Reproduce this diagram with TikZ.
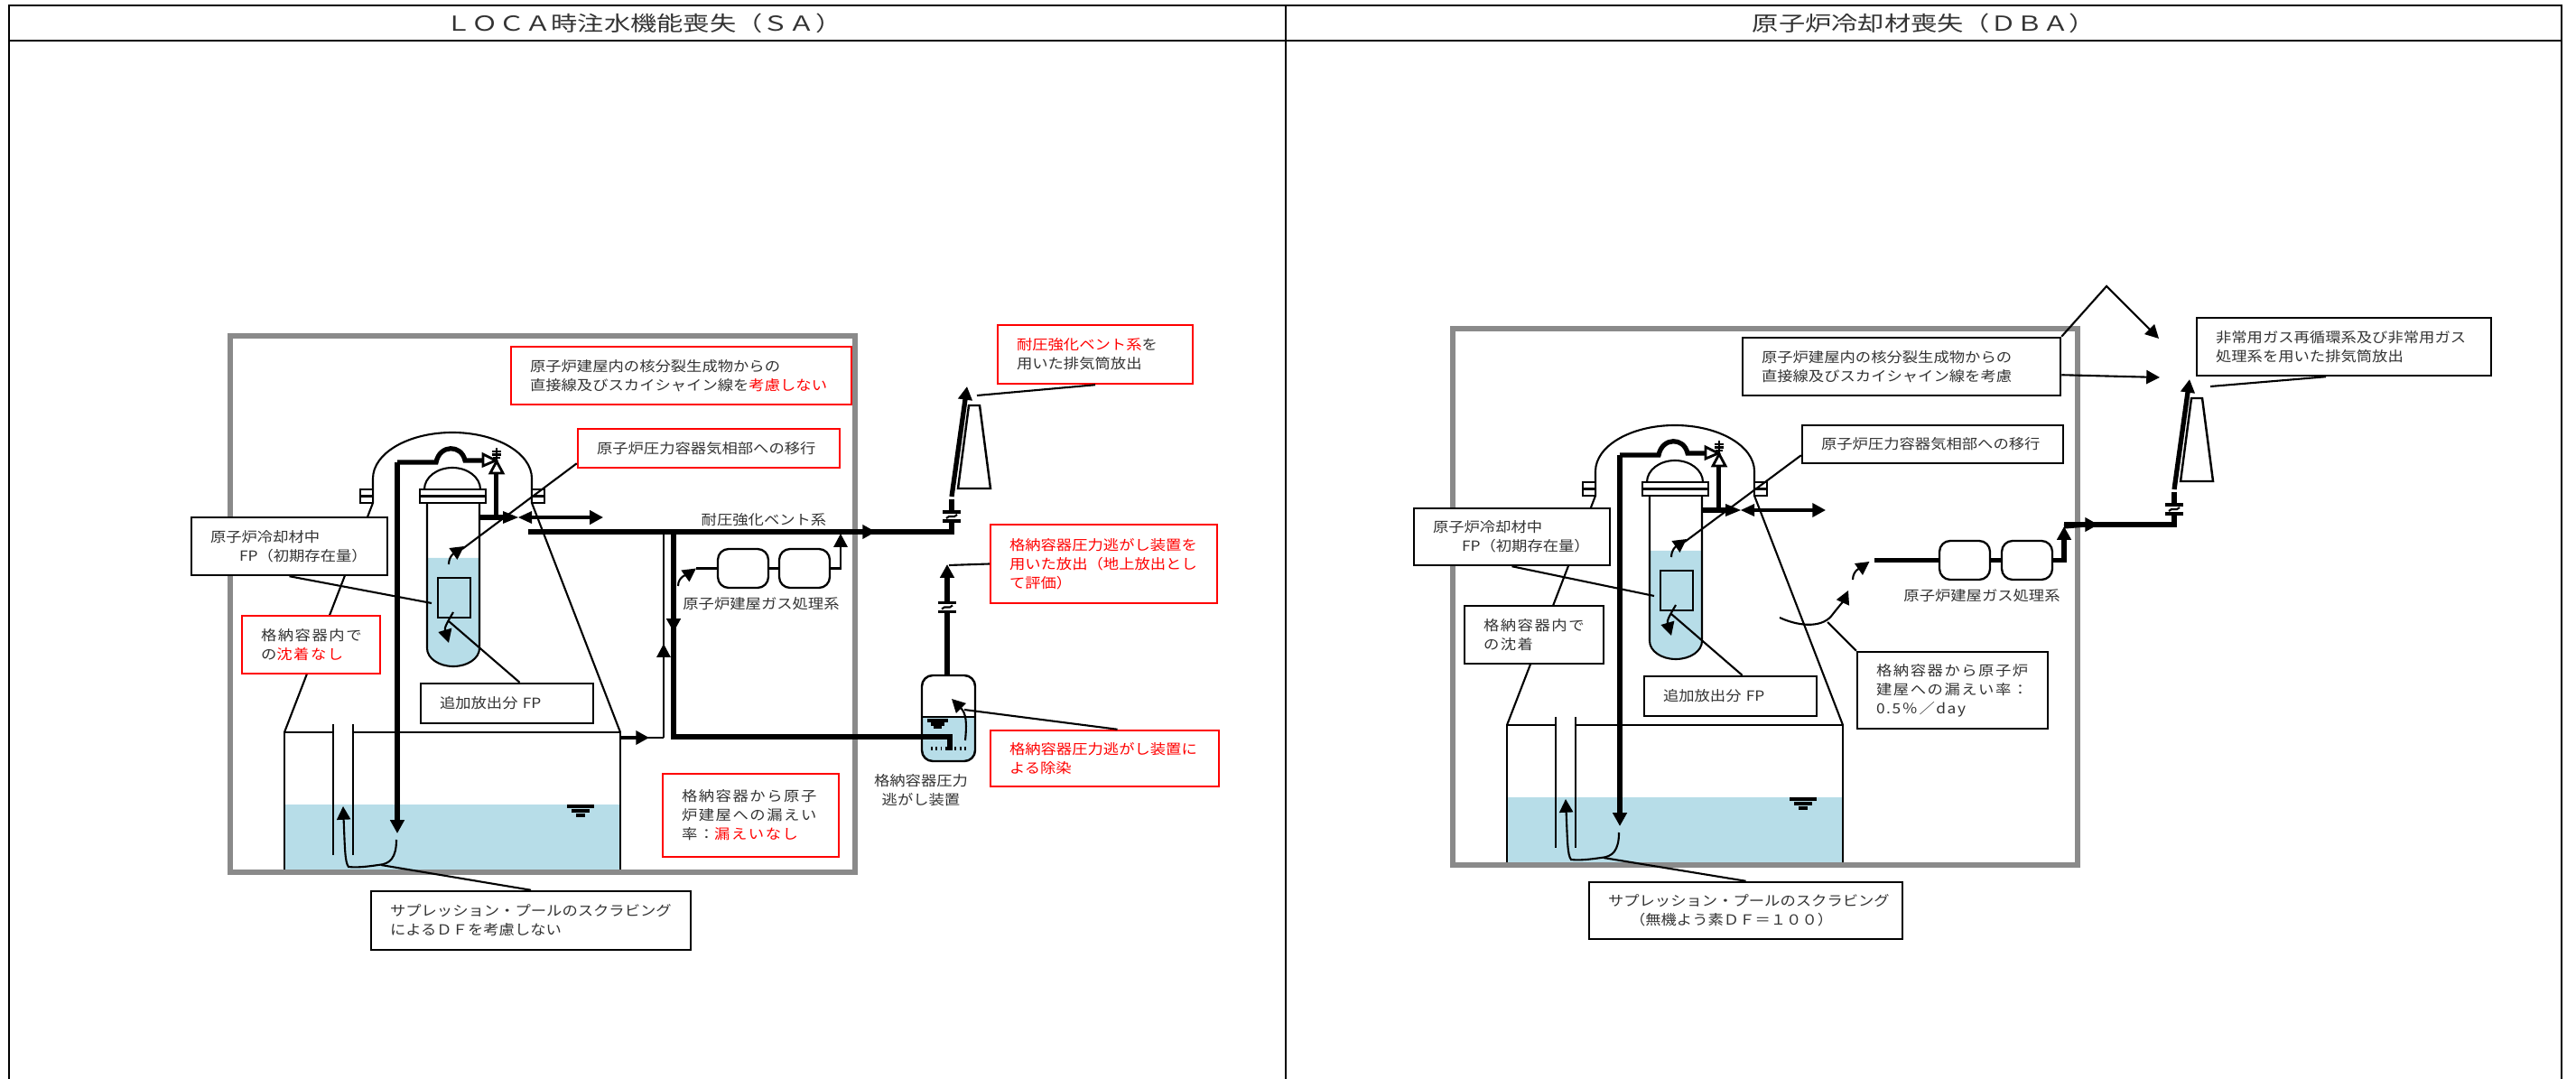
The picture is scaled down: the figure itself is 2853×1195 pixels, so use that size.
\documentclass[tikz,border=0pt]{standalone}
\usepackage{fontspec}
\setmainfont[FakeStretch=1.12]{Noto Sans CJK JP}
\newfontfamily\widefamily[FakeStretch=1.12,LetterSpace=10]{Noto Sans CJK JP}
\newfontfamily\titlefamily[FakeStretch=1.28]{Noto Sans CJK JP}
\usetikzlibrary{arrows.meta}
\definecolor{poolwater}{HTML}{B7DDE8}
\definecolor{framegray}{HTML}{8A8A8A}
\newcommand{\notefont}{\fontsize{4.4pt}{6pt}\selectfont}

\tikzset{
  pipe/.style={line width=.6pt},
  medium/.style={line width=.95pt},
  heavy/.style={line width=1.5pt},
  arrow/.style={-{Triangle[length=4.2pt,width=4.3pt]}, pipe},
  mediumarrow/.style={-{Triangle[length=4.2pt,width=4.3pt]}, medium},
  heavyarrow/.style={-{Triangle[length=4.2pt,width=4.3pt]}, heavy},
  leader/.style={line width=.6pt},
  note/.style n args={2}{draw=black, line width=.7pt, fill=white, inner sep=0pt, align=left,
    minimum width=#1mm, minimum height=#2mm, text width=\dimexpr#1mm-4.2mm\relax},
  rednote/.style n args={2}{note={#1}{#2}, draw=red},
  widenote/.style={font=\widefamily\notefont},
  gasbox/.style={draw, line width=.65pt, fill=white, rounded corners=1.2mm, inner sep=0pt,
    minimum width=5.6mm, minimum height=4.3mm},
  pipebreak/.pic={
    \draw[medium] (-10,-5) -- (10,-5) (-10,5) -- (10,5);
    \draw[pipe] (-6,2) .. controls (-2,-3) and (2,3) .. (6,-2);
  },
  plant/.pic={
    % suppression pool
    \fill[poolwater] (315,891) rectangle (687,964);
    \draw[pipe] (315,966) -- (315,811) -- (369,811) (391,811) -- (687,811) -- (687,966);
    \draw[pipe] (369,802) -- (369,947) (391,802) -- (391,947);
    \draw[medium] (628,893) -- (658,893) (633,898) -- (653,898) (638,903) -- (648,903);
    \draw[framegray, line width=1.7pt] (255,372) rectangle (947,966);
    % containment
    \draw[pipe] (315,811) -- (413,557) -- (413,530) arc[start angle=180, end angle=0, x radius=8.8mm, y radius=5.1mm]
      -- (589,557) -- (687,811);
    \draw[pipe, fill=white] (399,542) rectangle (413,557) (399,549.5) -- (413,549.5);
    \draw[pipe, fill=white] (589,542) rectangle (603,557) (589,549.5) -- (603,549.5);
    % pressure vessel
    \fill[poolwater] (473,618) -- (531,618) -- (531,718) arc[start angle=0, end angle=-180, x radius=2.9mm, y radius=2mm] -- cycle;
    \draw[pipe] (473,557) -- (473,718) arc[start angle=180, end angle=360, x radius=2.9mm, y radius=2mm] -- (531,557);
    \draw[pipe] (470,542) arc[start angle=180, end angle=0, x radius=3.1mm, y radius=2.4mm];
    \draw[pipe, fill=white] (465,542) rectangle (538,557);
    \draw[medium] (465,549.5) -- (538,549.5);
    \draw[pipe, line width=.7pt] (485,640) rectangle (521,684);
    % relief line and valves
    \draw[heavyarrow] (440,512) -- (440,923);
    \draw[heavy] (440,512) -- (483,512) .. controls (487,492) and (511,492) .. (515,510) -- (535,510);
    \draw[pipe, fill=white, line width=.8pt] (535,503) -- (549,510) -- (535,516) -- cycle;
    \draw[pipe, fill=white, line width=.8pt] (550,511) -- (557,524) -- (543,524) -- cycle;
    \draw[pipe] (550,496) -- (550,511) (545,500) -- (555,500) (545,503.5) -- (555,503.5) (546,507) -- (554,507);
    \draw[heavy] (549.5,524) -- (549.5,573);
    \draw[heavy] (532,573) -- (557,573);
    \fill (557,566) -- (574,573) -- (557,580) -- cycle;
    \fill (589,566) -- (574,573) -- (589,580) -- cycle;
    \draw[mediumarrow] (589,573) -- (668,573);
    % stack
    \draw[heavy] (932,589) -- (1054,589) -- (1054,576);
    \draw[heavyarrow] (932,589) -- (970,589);
    \pic at (1054,572) {pipebreak};
    \draw[heavy] (1054,568) -- (1054,553);
    \draw[heavyarrow] (1054,550) -- (1071,428);
    \draw[pipe, line width=.7pt] (1061,541) -- (1073,449) -- (1085,449) -- (1097,541) -- cycle;
    % particle paths
    \draw[arrow] (497,625) to[out=90, in=215] (514,605);
    \draw[arrow] (502,678) .. controls (495,690) and (492,695) .. (497,712);
    \draw[arrow] (439,930) .. controls (439,950) and (432,957) .. (419,958)
      .. controls (405,960) and (395,961) .. (386,960) .. controls (382,955) and (382,940) .. (380,893);
    \coordinate (rpvend) at (512,608);
    \coordinate (coolantend) at (478,668);
    \coordinate (addend) at (497,688);
    \coordinate (scrubend) at (422,958);
  }
}

\begin{document}
\begin{tikzpicture}[x=0.1mm, y=-0.1mm, every node/.style={font=\notefont, text=black!80}]
\useasboundingbox (0,0) rectangle (2853,1195);

\draw[line width=.8pt] (10,1195) -- (10,6) -- (2837,6) -- (2837,1195) (10,45) -- (2837,45) (1424,6) -- (1424,1195);
\node[font=\titlefamily\fontsize{6.5pt}{7pt}\selectfont] (satitle) at (713,26) {ＬＯＣＡ時注水機能喪失（ＳＡ）};
\node[font=\titlefamily\fontsize{6.5pt}{7pt}\selectfont] (dbtitle) at (2131,26) {原子炉冷却材喪失（ＤＢＡ）};

% left panel
\pic (sa-) at (0,0) {plant};

\draw[heavy] (585,589) -- (932,589);
\draw[mediumarrow] (687,817) -- (719,817);
\draw[pipe] (710,817) -- (735,817);
\draw[pipe] (735,817) -- (735,589);
\draw[arrow] (735,817) -- (735,713);
\draw[heavy, line width=1.9pt] (746,690) -- (746,816) -- (1052,816);
\draw[heavyarrow] (746,589) -- (746,700);

\node[gasbox] (sagas1) at (823,629.5) {};
\node[gasbox] (sagas2) at (891,629.5) {};
\coordinate (sagasin) at (771,629.5);
\coordinate (sagastip) at (931,591);
\coordinate (sagasback) at (751,649);
\draw[pipe] (sagasin) -- (sagas1);
\draw[pipe] (sagas1) -- (sagas2);
\draw[arrow] (sagas2.east) -| (sagastip);
\draw[arrow] (sagasback) to[out=90, in=215] (sagasin);

\coordinate (satanktip) at (1049,625);
\fill[poolwater] (1021,794) [rounded corners=1.2mm] -- (1021,843) -- (1080,843) [sharp corners] -- (1080,794) -- cycle;
\draw[pipe, line width=.7pt, rounded corners=1.2mm] (1021,748) rectangle (1080,843);
\draw[pipe] (1021,794) -- (1080,794);
\draw[medium] (1027,798) -- (1050,798) (1031,802) -- (1046,802) (1034,805) -- (1043,805);
\draw[line width=1.1pt, dash pattern=on .55pt off .95pt] (1031,829) -- (1073,829);
\draw[heavy, line width=1.9pt] (746,816) -- (1052,816) -- (1052,831);
\draw[arrow] (1069,820) .. controls (1071,800) and (1070,790) .. (1054,774);
\draw[heavy] (1049,748) -- (1049,678);
\pic at (1049,672.5) {pipebreak};
\draw[heavyarrow] (1049,667) -- (satanktip);

\node[rednote={37.7}{6.4}] (sadirect) at (754.5,416) {原子炉建屋内の核分裂生成物からの\\直接線及びスカイシャイン線を\textcolor{red}{考慮しない}};
\node[rednote={29}{4.3}] (sarpv) at (785,496.5) {原子炉圧力容器気相部への移行};
\node[note={21.7}{6.4}] (sacoolant) at (320.5,605) {原子炉冷却材中\\\hspace*{3.2mm}FP（初期存在量）};
\node[rednote={15.3}{6.4}, widenote] (sadeposit) at (344.5,714) {格納容器内で\\の\textcolor{red}{沈着なし}};
\node[note={19.1}{4.4}] (saadd) at (561.5,779) {追加放出分 FP};
\node[note={35.4}{6.5}] (sascrub) at (588,1019.5) {サプレッション・プールのスクラビング\\によるＤＦを考慮しない};
\node[rednote={19.5}{9.2}, widenote] (saleak) at (831.5,903) {格納容器から原子\\炉建屋への漏えい\\率：\textcolor{red}{漏えいなし}};
\node[rednote={21.6}{6.5}] (savent) at (1213,392.5) {\textcolor{red}{耐圧強化ベント系}を\\用いた排気筒放出};
\node[rednote={25.1}{8.7}, text=red] (safcvs) at (1222.5,624.5) {格納容器圧力逃がし装置を\\用いた放出（地上放出とし\\て評価）};
\node[rednote={25.3}{6.2}, text=red] (sadecon) at (1223.5,840) {格納容器圧力逃がし装置に\\よる除染};
\node (saventlabel) at (846,576) {耐圧強化ベント系};
\node (sagaslabel) at (843,669) {原子炉建屋ガス処理系};
\node[align=center] (satanklabel) at (1020,875) {格納容器圧力\\逃がし装置};

\coordinate (saventend) at (1082,438);
\coordinate (safcvsend) at (1051,626);
\coordinate (sadeconend) at (1068,786);
\draw[leader] ([yshift=.6mm]sarpv.south west) -- (sa-rpvend);
\draw[leader] (sacoolant.south) -- (sa-coolantend);
\draw[leader] ([xshift=1.4mm]saadd.north) -- (sa-addend);
\draw[leader] (sascrub.north) -- (sa-scrubend);
\draw[leader] (savent.south) -- (saventend);
\draw[leader] (safcvs.west) -- (safcvsend);
\draw[leader] ([xshift=1.4mm]sadecon.north) -- (sadeconend);

% right panel
\pic (db-) at (1354,-8) {plant};

\node[gasbox] (dbgas1) at (2176,620.5) {};
\node[gasbox] (dbgas2) at (2245,620.5) {};
\coordinate (dbgasin) at (2076,620.5);
\coordinate (dbgastip) at (2286,583);
\coordinate (dbgasback) at (2052,642);
\coordinate (dbgastop) at (2070.5,622);
\draw[heavy] (dbgasin) -- (dbgas1);
\draw[heavy] (dbgas1) -- (dbgas2);
\draw[heavyarrow] (dbgas2.east) -| (dbgastip);
\draw[heavy] (dbgastip) -- (2310,581);
\draw[arrow] (dbgasback) to[out=90, in=215] (dbgastop);
\coordinate (dbleakstart) at (1971,684);
\coordinate (dbleaktip) at (2047,654);
\draw[arrow] (dbleakstart) .. controls (1995,695) and (2020,695) .. (2030,680) .. controls (2038,670) and (2042,665) .. (dbleaktip);

\node[note={35.2}{6.4}] (dbdirect) at (2106,406) {原子炉建屋内の核分裂生成物からの\\直接線及びスカイシャイン線を考慮};
\node[note={28.9}{4.2}] (dbrpv) at (2140.5,492) {原子炉圧力容器気相部への移行};
\node[note={21.7}{6.3}] (dbcoolant) at (1674.5,594.5) {原子炉冷却材中\\\hspace*{3.2mm}FP（初期存在量）};
\node[note={15.4}{6.4}, widenote] (dbdeposit) at (1699,703) {格納容器内で\\の沈着};
\node[note={19.1}{4.4}] (dbadd) at (1916.5,771) {追加放出分 FP};
\node[note={21.1}{8.5}, widenote] (dbleak) at (2162.5,764.5) {格納容器から原子炉\\建屋への漏えい率：\\0.5％／day};
\node[note={34.7}{6.3}] (dbscrub) at (1933.5,1008.5) {サプレッション・プールのスクラビング\\\hspace*{2.4mm}（無機よう素ＤＦ＝１００）};
\node[note={32.6}{6.4}] (dbstack) at (2596,384) {非常用ガス再循環系及び非常用ガス\\処理系を用いた排気筒放出};
\node (dbgaslabel) at (2195,660) {原子炉建屋ガス処理系};

\coordinate (dbbend) at (2333,317);
\coordinate (dbdirecttip) at (2391,375);
\coordinate (dbdirecttip2) at (2392,418);
\coordinate (dbstackend) at (2448,428);
\coordinate (dbleakend) at (2024,689);
\draw[leader] ([yshift=1mm]dbrpv.south west) -- (db-rpvend);
\draw[leader] (dbcoolant.south) -- (db-coolantend);
\draw[leader] ([xshift=1.3mm]dbadd.north) -- (db-addend);
\draw[leader] (dbscrub.north) -- (db-scrubend);
\draw[leader] (dbleak.north west) -- (dbleakend);
\draw[leader] ([xshift=-2mm]dbstack.south) -- (dbstackend);
\draw[arrow] (dbdirect.north east) -- (dbbend) -- (dbdirecttip);
\draw[arrow] ([yshift=2.4mm]dbdirect.south east) -- (dbdirecttip2);
\end{tikzpicture}
\end{document}
